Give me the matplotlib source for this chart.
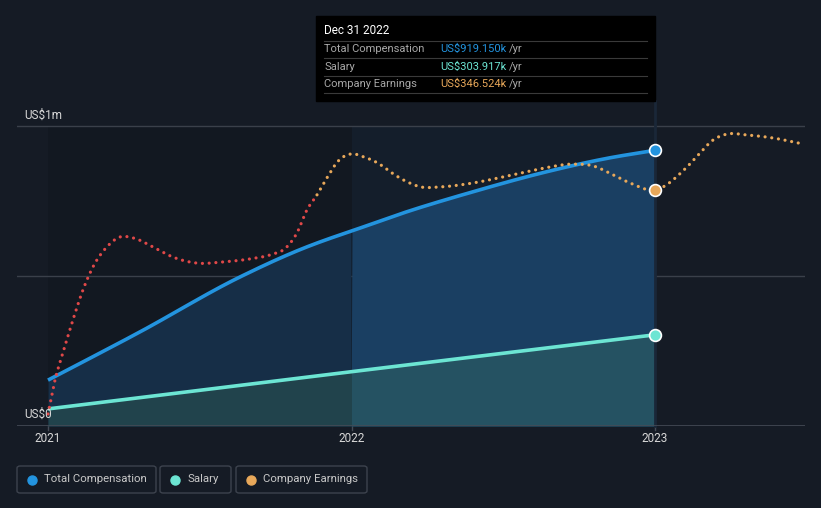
import numpy as np
import matplotlib.pyplot as plt
from matplotlib.patches import FancyBboxPatch, Rectangle
from matplotlib.lines import Line2D

plt.rcParams['font.family'] = ['Roboto', 'DejaVu Sans']

# ---------------- data (values in US$ millions, x in decimal years) ----------------
tc_x = np.array([2021.0, 2021.30, 2021.633, 2021.853, 2021.962, 2022.0, 2022.182, 2022.401,
                 2022.621, 2022.841, 2023.0])
tc_y = np.array([0.153, 0.312, 0.497, 0.597, 0.637, 0.650, 0.714, 0.781,
                 0.842, 0.892, 0.919])

sal_x = np.array([2021.0, 2022.0, 2023.0])
sal_y = np.array([0.057, 0.181, 0.304])

earn_x = np.array([2021.0, 2021.023, 2021.049, 2021.082, 2021.115, 2021.148, 2021.194, 2021.237,
                   2021.28, 2021.346, 2021.412, 2021.491, 2021.577, 2021.666, 2021.731, 2021.787,
                   2021.82, 2021.853, 2021.886, 2021.919, 2021.956, 2022.0, 2022.04, 2022.086,
                   2022.138, 2022.185, 2022.228, 2022.292, 2022.4, 2022.512, 2022.621, 2022.73,
                   2022.796, 2022.862, 2022.918, 2023.0, 2023.099, 2023.148, 2023.191, 2023.237,
                   2023.303, 2023.389, 2023.488])
earn_y = np.array([0.040, 0.153, 0.243, 0.353, 0.453, 0.530, 0.597, 0.630,
                   0.627, 0.597, 0.563, 0.543, 0.547, 0.557, 0.570, 0.597,
                   0.643, 0.720, 0.770, 0.827, 0.883, 0.907, 0.897, 0.877,
                   0.840, 0.813, 0.797, 0.797, 0.810, 0.833, 0.857, 0.873,
                   0.867, 0.837, 0.810, 0.787, 0.857, 0.910, 0.953, 0.973,
                   0.970, 0.960, 0.940])
red_until = 2021.886

years = [2021, 2022, 2023]
year_labels = ['2021', '2022', '2023']

tip_date = 'Dec 31 2022'
tip_rows = ['Total Compensation', 'Salary', 'Company Earnings']
tip_vals = ['US$919.150k', 'US$303.917k', 'US$346.524k']

# ---------------- colours ----------------
bg = '#151b25'
c_tc = '#2394df'
c_sal = '#6ce5d3'
c_earn = '#e8a85a'
c_red = '#e04848'
c_grid = '#3a404a'
c_txt = '#d8d8d8'


def smooth(x, y, n=600):
    # cubic hermite curve through the points, for a rounded line like the original
    d = np.gradient(y, x)
    xs = np.linspace(x[0], x[-1], n)
    i = np.clip(np.searchsorted(x, xs) - 1, 0, len(x) - 2)
    h = x[i + 1] - x[i]
    t = (xs - x[i]) / h
    h00 = 2 * t**3 - 3 * t**2 + 1
    h10 = t**3 - 2 * t**2 + t
    h01 = -2 * t**3 + 3 * t**2
    h11 = t**3 - t**2
    return xs, h00 * y[i] + h10 * h * d[i] + h01 * y[i + 1] + h11 * h * d[i + 1]


W, H = 821, 508
fig = plt.figure(figsize=(W / 100, H / 100), dpi=100)
fig.patch.set_facecolor(bg)

def fx(px):
    return px / W

def fy(py):
    return 1 - py / H

# axes: x from px 17 to 805, y from py 16 to 426
ax = fig.add_axes([fx(17), fy(426), (805 - 17) / W, (426 - 16) / H])
ax.set_facecolor(bg)
px_per_year = 303.5
ax.set_xlim(2021 - 31 / px_per_year, 2021 + 757 / px_per_year)
ax.set_ylim(0, 410 / 300)
for s in ax.spines.values():
    s.set_visible(False)
ax.set_xticks([])
ax.set_yticks([])

# darker plot body, highlighted year band
ax.add_patch(Rectangle((2021, 0), 1, 1.0, color='#121821', zorder=0, lw=0))
ax.add_patch(Rectangle((2022, 0), 1, 1.0, color='#141e2b', zorder=0, lw=0))

# grid lines
for v in [0.5, 1.0]:
    ax.axhline(v, color=c_grid, lw=1, zorder=1)
ax.axhline(0, color='#454b56', lw=1.2, zorder=6)
for yr in years:
    ax.plot([yr, yr], [0, -0.012], color='#454b56', lw=1, clip_on=False)

tx, ty = smooth(tc_x, tc_y)
ex, ey = smooth(earn_x, earn_y, 1500)

# area fills
ax.fill_between(tx, 0, ty, where=tx <= 2022, interpolate=True, color='#162e47', lw=0, zorder=2)
ax.fill_between(tx, 0, ty, where=tx >= 2022, interpolate=True, color='#1a3f62', lw=0, zorder=2)
ax.fill_between(sal_x, 0, sal_y, where=sal_x <= 2022, color='#21434c', lw=0, zorder=3)
ax.fill_between(sal_x, 0, sal_y, where=sal_x >= 2022, color='#255262', lw=0, zorder=3)

# vertical hover line
ax.plot([2023, 2023], [0, 1.083], color='#1a2738', lw=2, zorder=3, clip_on=False)

# lines
ax.plot(tx, ty, color=c_tc, lw=2.6, zorder=5, solid_capstyle='butt')
ax.plot(sal_x, sal_y, color=c_sal, lw=2.6, zorder=5, solid_capstyle='butt')

dots = dict(lw=2.3, linestyle=(0, (0.01, 2.1)), dash_capstyle='round', zorder=6)
m = ex <= red_until
k = np.argmax(~m)
ax.plot(ex[:k + 1], ey[:k + 1], color=c_red, **dots)
ax.plot(ex[k:], ey[k:], color=c_earn, **dots)

# end markers
i_end = np.argmin(np.abs(earn_x - 2023.0))
ax.plot(tc_x[-1], tc_y[-1], 'o', ms=8.5, color=c_tc, mec='white', mew=1.2, zorder=8)
ax.plot(sal_x[-1], sal_y[-1], 'o', ms=8.5, color=c_sal, mec='white', mew=1.2, zorder=8)
ax.plot(earn_x[i_end], earn_y[i_end], 'o', ms=8.5, color=c_earn, mec='white', mew=1.2, zorder=8)

# axis labels
for yr, lab in zip(years, year_labels):
    ax.text(yr, -0.04, lab, color=c_txt, fontsize=8.5, ha='center', va='center')
fig.text(fx(24), fy(115), 'US$1m', color=c_txt, fontsize=8.5, ha='left', va='center')
fig.text(fx(24), fy(414), 'US$0', color=c_txt, fontsize=8.5, ha='left', va='center')

# tooltip
fig.patches.append(Rectangle((fx(316), fy(101)), (655 - 316) / W, (101 - 16) / H,
                             transform=fig.transFigure, color='black', zorder=10))
fig.text(fx(324), fy(31), tip_date, color='white', fontsize=8.5, va='center', zorder=11)
row_cols = [c_tc, c_sal, c_earn]
for k, (lab, val, col) in enumerate(zip(tip_rows, tip_vals, row_cols)):
    yy = 49 + k * 17.5
    fig.lines.append(Line2D([fx(324), fx(647)], [fy(yy - 8.5)] * 2, transform=fig.transFigure,
                            color='#3a3a3a', lw=0.8, zorder=11))
    fig.text(fx(324), fy(yy), lab, color='#a8a8a8', fontsize=8, va='center', zorder=11)
    fig.text(fx(440), fy(yy), val, color=col, fontsize=8, va='center', zorder=11)
    fig.text(fx(509), fy(yy), '/yr', color='#a8a8a8', fontsize=8, va='center', zorder=11)
fig.lines.append(Line2D([fx(324), fx(647)], [fy(93)] * 2, transform=fig.transFigure,
                        color='#3a3a3a', lw=0.8, zorder=11))

# legend boxes
legend = [('Total Compensation', c_tc, 17, 156), ('Salary', c_sal, 160, 231),
          ('Company Earnings', c_earn, 236, 367)]
for lab, col, x0, x1 in legend:
    fig.patches.append(FancyBboxPatch((fx(x0), fy(493)), (x1 - x0) / W, 27 / H,
                                      boxstyle='round,pad=0,rounding_size=0.004',
                                      transform=fig.transFigure, fc='none', ec='#3d434e', lw=1))
    fig.lines.append(Line2D([fx(x0 + 15)], [fy(479.5)], transform=fig.transFigure, marker='o',
                            ms=6.5, color=col, lw=0))
    fig.text(fx(x0 + 27), fy(479.5), lab, color='#c8c8c8', fontsize=8.2, va='center')

fig.savefig('out.png', dpi=100, facecolor=bg)
